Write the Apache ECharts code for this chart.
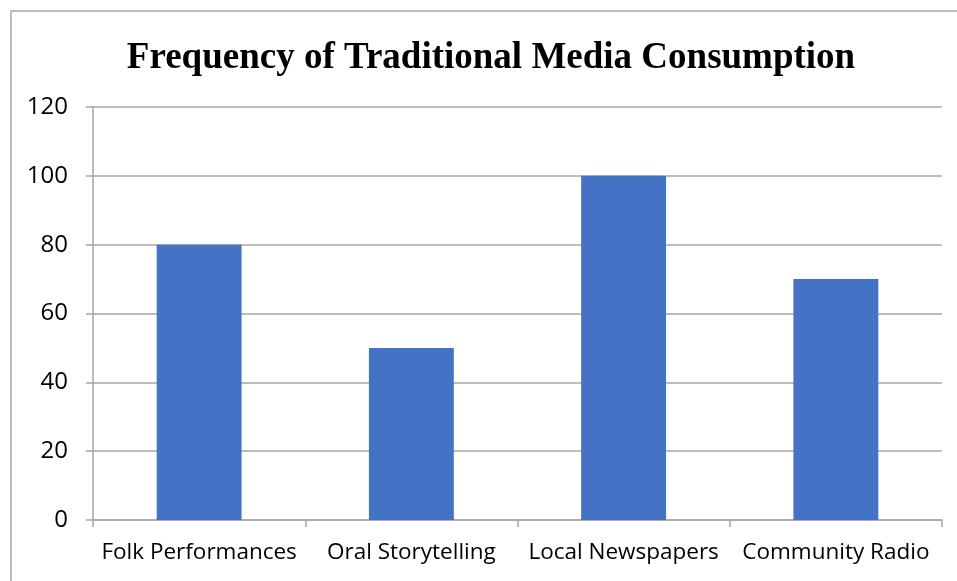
<!DOCTYPE html>
<html><head><meta charset="utf-8">
<script src="https://cdn.jsdelivr.net/npm/echarts@6/dist/echarts.min.js"></script>
<style>html,body{margin:0;padding:0;background:#fff}#c{width:957px;height:581px}</style>
</head><body><div id="c"></div>
<script>
const categories = ["Folk Performances", "Oral Storytelling", "Local Newspapers", "Community Radio"];
const values = [80, 50, 100, 70];
const yTicks = [0, 20, 40, 60, 80, 100, 120];
const title = "Frequency of Traditional Media Consumption";

const chart = echarts.init(document.getElementById('c'), null, {renderer: 'canvas'});
const lineColor = '#a6a6a6';
chart.setOption({
  animation: false,
  backgroundColor: '#fff',
  graphic: [{
    type: 'rect', shape: {x: 11, y: 11, width: 1000, height: 700},
    style: {fill: 'none', stroke: '#a6a6a6', lineWidth: 1.5}, z: -1
  }],
  title: {
    text: title, left: 486, textAlign: 'center', top: 35,
    textStyle: {fontFamily: 'Liberation Serif', fontWeight: 'bold', fontSize: 37, color: '#000'}
  },
  grid: {left: 93, right: 15, top: 107, bottom: 61, containLabel: false},
  xAxis: {
    type: 'category', data: categories,
    axisLine: {show: true, lineStyle: {color: lineColor, width: 1.5}},
    axisTick: {show: true, length: 7, alignWithLabel: false, lineStyle: {color: lineColor, width: 1.5}},
    axisLabel: {fontFamily: 'Open Sans', fontSize: 22.5, color: '#000', margin: 21, interval: 0}
  },
  yAxis: {
    type: 'value', min: yTicks[0], max: yTicks[yTicks.length - 1], interval: 20,
    axisLine: {show: true, lineStyle: {color: lineColor, width: 1.5}},
    axisTick: {show: true, length: 7, lineStyle: {color: lineColor, width: 1.5}},
    splitLine: {show: true, lineStyle: {color: lineColor, width: 1.5}},
    axisLabel: {fontFamily: 'Open Sans', fontSize: 24, color: '#000', margin: 25}
  },
  series: [{
    type: 'bar', data: values, barWidth: '40%',
    itemStyle: {color: '#4472c4'}
  }]
});
</script></body></html>
